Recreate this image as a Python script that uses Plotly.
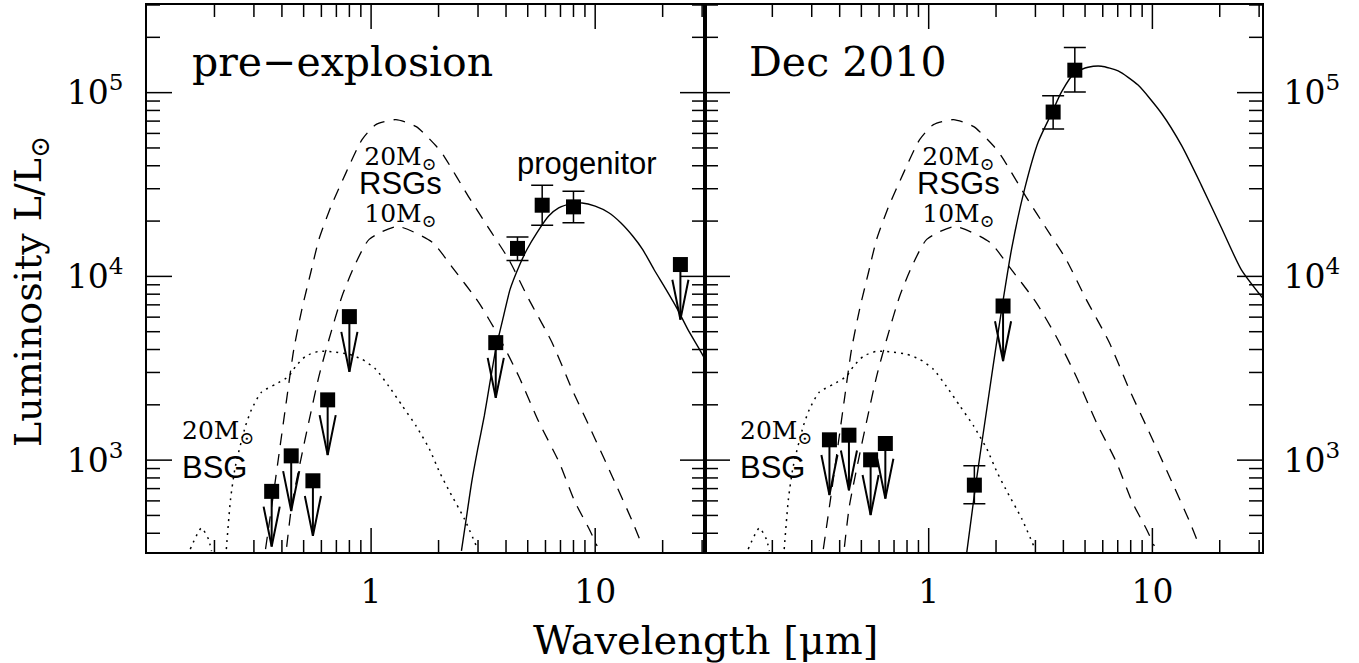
import plotly.graph_objects as go

# ---------------- data ----------------
# pre-explosion upper limits (UBVRI, 3.6um, 24um)
pre_lim_wl = [0.36, 0.44, 0.55, 0.64, 0.80, 3.6, 24.0]
pre_lim_L = [676, 1055, 772, 2128, 6040, 4360, 11600]
# pre-explosion detections (4.5, 5.8, 8.0 um) with error bars
pre_det_wl = [4.5, 5.8, 8.0]
pre_det_L = [14200, 24400, 23900]
pre_det_hi = [16400, 31300, 29100]
pre_det_lo = [12200, 19000, 19600]

# Dec 2010 upper limits (UBVR, K)
dec_lim_wl = [0.36, 0.44, 0.55, 0.64, 2.15]
dec_lim_L = [1290, 1367, 1004, 1232, 6900]
# Dec 2010 detections (H, 3.6, 4.5 um)
dec_det_wl = [1.6, 3.6, 4.5]
dec_det_L = [731, 78400, 132500]
dec_det_hi = [931, 96200, 175800]
dec_det_lo = [579, 63500, 100700]

# 20 Msun RSG model (dashed)
rsg20_wl = [0.338, 0.364, 0.391, 0.420, 0.452, 0.491, 0.538, 0.585, 0.662, 0.773, 0.911, 1.05, 1.29,
            1.59, 1.96, 2.12, 2.72, 3.45, 4.11, 5.06, 6.41, 7.88, 9.40, 11.9, 14.7, 16.1]
rsg20_L = [328, 614, 1148, 2150, 4010, 6620, 10500, 15900, 24000, 36700, 55500, 67000, 71300,
           65300, 50900, 44900, 27200, 17300, 12400, 7500, 4380, 2430, 1530, 818, 460, 349]

# 10 Msun RSG model (dashed)
rsg10_wl = [0.420, 0.442, 0.486, 0.527, 0.585, 0.649, 0.741, 0.840, 0.980, 1.31, 1.88, 2.29, 3.02,
            3.71, 4.56, 5.61, 6.90, 8.13, 9.40, 10.2]
rsg10_L = [337, 562, 1010, 1610, 2860, 4550, 7780, 11300, 15900, 18700, 15300, 11300, 7220,
           4720, 2860, 1610, 975, 591, 422, 341]

# 20 Msun BSG model (dotted); None marks where it drops below the plot
bsg_wl = [0.156, 0.175, 0.188, 0.194, None, 0.226, 0.236, 0.248, 0.275, 0.293, 0.324, 0.375, 0.429,
          0.461, 0.511, 0.585, 0.697, 0.797, 0.911, 1.05, 1.20, 1.38, 1.59, 1.82, 2.02, 2.21, 2.61, 2.96]
bsg_L = [328, 427, 372, 320, None, 328, 614, 927, 1530, 1890, 2340, 2590, 2860,
         3240, 3680, 3910, 3870, 3770, 3540, 3120, 2520, 1970, 1530, 1150, 861, 695, 478, 337]

# progenitor fit (solid, pre-explosion)
prog_wl = [2.53, 2.67, 2.81, 2.99, 3.20, 3.39, 3.60, 3.90, 4.17, 4.58, 4.96, 5.50, 6.20, 6.87, 7.88,
           8.74, 10.0, 11.5, 13.0, 14.7, 16.3, 18.3, 20.7, 23.3, 25.9, 29.2, 31.5]
prog_L = [321, 498, 757, 1148, 1740, 2640, 4010, 6080, 8500, 11400, 14000, 17300, 21300, 23600, 24900,
          25100, 24100, 22200, 19600, 16600, 14000, 10900, 8500, 6620, 5150, 4010, 3400]

# Dec 2010 fit (solid)
dec_fit_wl = [1.48, 1.61, 1.82, 2.05, 2.35, 2.69, 3.09, 3.54, 3.92, 4.50, 5.16, 5.92, 7.03, 8.63,
              11.0, 13.5, 16.5, 20.3, 25.0, 31.2]
dec_fit_L = [315, 686, 1910, 5090, 14200, 30200, 54000, 77000, 100700, 128500, 137400, 139300, 131300,
             109900, 77000, 51600, 31600, 18500, 10850, 7590]

x_tick_vals = [1, 10]
x_tick_text = ["1", "10"]
x_minor_vals = [0.2, 0.3, 0.4, 0.5, 0.6, 0.7, 0.8, 0.9, 2, 3, 4, 5, 6, 7, 8, 9, 20, 30]
y_tick_vals = [1e3, 1e4, 1e5]
y_tick_text = ["10<sup>3</sup>", "10<sup>4</sup>", "10<sup>5</sup>"]
y_minor_vals = [400, 500, 600, 700, 800, 900, 2000, 3000, 4000, 5000, 6000, 7000, 8000, 9000,
                20000, 30000, 40000, 50000, 60000, 70000, 80000, 90000, 200000, 300000]

# ---------------- style ----------------
SERIF = "DejaVu Serif"
SANS = "Liberation Sans"
W, H = 1359, 663
XL, XM, XR = 147, 705, 1262
YT, YB = 5, 552
PH = YB - YT
ARROW_DEX = 0.30      # stem length of upper-limit arrows (dex in L)
HEAD_DEX = 0.217      # arrow head height (dex in L)
HEAD_HALF = 0.036     # arrow head half width (dex in wavelength)
XMAJ, XMIN, YMAJ, YMIN = 24, 12, 25, 13   # tick lengths in px

fig = go.Figure()


def arrows(wl, L):
    xs, ys = [], []
    for w, l in zip(wl, L):
        tip = l / 10 ** ARROW_DEX
        top = tip * 10 ** HEAD_DEX
        xs += [w, w, None, w / 10 ** HEAD_HALF, w, w * 10 ** HEAD_HALF, None]
        ys += [l, tip, None, top, tip, top, None]
    return xs, ys


def panel(xa, ya, lim_wl, lim_L, det_wl, det_L, det_hi, det_lo, fit_wl, fit_L):
    common = dict(xaxis=xa, yaxis=ya, showlegend=False, hoverinfo="skip")
    dash = dict(color="black", width=1.3, dash="12px,9px", shape="spline", smoothing=0.6)
    fig.add_trace(go.Scatter(x=rsg20_wl, y=rsg20_L, mode="lines", line=dash, **common))
    fig.add_trace(go.Scatter(x=rsg10_wl, y=rsg10_L, mode="lines", line=dash, **common))
    fig.add_trace(go.Scatter(x=bsg_wl, y=bsg_L, mode="lines",
                             line=dict(color="black", width=1.5, dash="2px,5px", shape="spline", smoothing=0.6), **common))
    fig.add_trace(go.Scatter(x=fit_wl, y=fit_L, mode="lines",
                             line=dict(color="black", width=1.4, shape="spline", smoothing=0.6), **common))
    ax, ay = arrows(lim_wl, lim_L)
    fig.add_trace(go.Scatter(x=ax, y=ay, mode="lines", line=dict(color="black", width=2), **common))
    fig.add_trace(go.Scatter(x=lim_wl, y=lim_L, mode="markers",
                             marker=dict(symbol="square", size=15, color="black"), **common))
    fig.add_trace(go.Scatter(
        x=det_wl, y=det_L, mode="markers",
        marker=dict(symbol="square", size=15, color="black"),
        error_y=dict(type="data", symmetric=False,
                     array=[h - v for h, v in zip(det_hi, det_L)],
                     arrayminus=[v - lo for v, lo in zip(det_L, det_lo)],
                     color="black", thickness=1.5, width=11),
        **common))


panel("x", "y", pre_lim_wl, pre_lim_L, pre_det_wl, pre_det_L, pre_det_hi, pre_det_lo, prog_wl, prog_L)
panel("x2", "y2", dec_lim_wl, dec_lim_L, dec_det_wl, dec_det_L, dec_det_hi, dec_det_lo, dec_fit_wl, dec_fit_L)

xrange = [-1.0, 1.49]
yrange = [2.5, 5.477]

xcommon = dict(type="log", range=xrange, showgrid=False, zeroline=False,
               showline=True, linecolor="black", linewidth=2, mirror=True,
               ticks="", tickmode="array", tickvals=x_tick_vals, ticktext=x_tick_text,
               tickfont=dict(family=SERIF, size=33, color="black"), ticklabelstandoff=9)
ycommon = dict(type="log", range=yrange, showgrid=False, zeroline=False,
               showline=True, linecolor="black", linewidth=2, mirror=True,
               ticks="", tickmode="array", tickvals=y_tick_vals, ticktext=y_tick_text,
               tickfont=dict(family=SERIF, size=33, color="black"),
               domain=[1 - YB / H, 1 - YT / H])

fig.update_layout(
    width=W, height=H, margin=dict(l=0, r=0, t=0, b=0),
    plot_bgcolor="white", paper_bgcolor="white", showlegend=False,
    xaxis=dict(domain=[XL / W, XM / W], anchor="y", **xcommon),
    xaxis2=dict(domain=[XM / W, XR / W], anchor="y2", **xcommon),
    yaxis=dict(anchor="x", side="left", ticklabelstandoff=15, **ycommon),
    yaxis2=dict(anchor="x2", side="right", ticklabelstandoff=13, **ycommon),
)

# ---------------- ticks on all four sides of both panels ----------------
tick_line = dict(color="black", width=1.5)
for xa, ya, pw in (("x", "y", XM - XL), ("x2", "y2", XR - XM)):
    for vals, ln in ((x_tick_vals, XMAJ), (x_minor_vals, XMIN)):
        f = ln / PH
        for v in vals:
            fig.add_shape(type="line", xref=xa, yref=ya + " domain", x0=v, x1=v, y0=0, y1=f,
                          line=tick_line, layer="above")
            fig.add_shape(type="line", xref=xa, yref=ya + " domain", x0=v, x1=v, y0=1, y1=1 - f,
                          line=tick_line, layer="above")
    for vals, ln in ((y_tick_vals, YMAJ), (y_minor_vals, YMIN)):
        f = ln / pw
        for v in vals:
            fig.add_shape(type="line", xref=xa + " domain", yref=ya, x0=0, x1=f, y0=v, y1=v,
                          line=tick_line, layer="above")
            fig.add_shape(type="line", xref=xa + " domain", yref=ya, x0=1, x1=1 - f, y0=v, y1=v,
                          line=tick_line, layer="above")

# ---------------- text ----------------
def txt(text, xref, x, y, font, size, xanchor="center", yanchor="middle"):
    fig.add_annotation(text=text, xref=xref, yref="y domain", x=x, y=y, showarrow=False,
                       xanchor=xanchor, yanchor=yanchor, borderpad=0, align="center",
                       font=dict(family=font, size=size, color="black"))


def span(t, family, size):
    return "<span style='font-family:%s;font-size:%dpx'>%s</span>" % (family, size, t)


rsg_label = "<br>".join([span("20M<sub>\u2299</sub>", SERIF, 25),
                         span("RSGs", SANS, 31),
                         span("10M<sub>\u2299</sub>", SERIF, 25)])

for xr, title in (("x domain", "pre\u2212explosion"), ("x2 domain", "Dec 2010")):
    txt(title, xr, 0.078, 0.895, SERIF, 41, xanchor="left")
    txt(rsg_label, xr, 0.455, 0.668, SERIF, 22)
    txt("20M<sub>\u2299</sub>", xr, 0.127, 0.220, SERIF, 25)
    txt("BSG", xr, 0.121, 0.155, SANS, 31)

txt("progenitor", "x domain", 0.789, 0.711, SANS, 31)

fig.add_annotation(text="Wavelength [\u03bcm]", xref="paper", yref="paper", x=XM / W, y=1 - 640 / H,
                   showarrow=False, xanchor="center", yanchor="middle",
                   font=dict(family=SERIF, size=40, color="black"))
fig.add_annotation(text="Luminosity L/L<sub>\u2299</sub>", xref="paper", yref="paper", x=30 / W, y=1 - 292 / H,
                   showarrow=False, xanchor="center", yanchor="middle", textangle=-90,
                   font=dict(family=SERIF, size=38, color="black"))

fig.write_html("out.html", config={"displayModeBar": False},
               post_script="document.body.style.margin='0';document.body.style.overflow='hidden';")
